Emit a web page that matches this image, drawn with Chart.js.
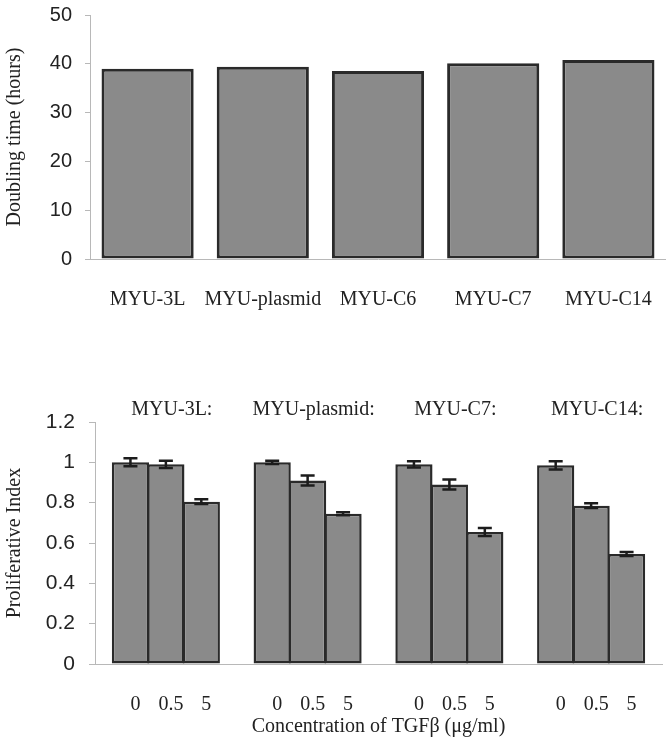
<!DOCTYPE html>
<html><head><meta charset="utf-8">
<script src="https://cdn.jsdelivr.net/npm/chart.js@4/dist/chart.umd.min.js"></script>
<style>
html,body{margin:0;padding:0;background:#fff;}
#wrap{position:relative;width:666px;height:744px;overflow:hidden;}
#c1{position:absolute;left:0;top:0;}
#c2{position:absolute;left:0;top:370px;}
</style></head><body>
<div id="wrap">
<canvas id="c1" width="666" height="330"></canvas>
<canvas id="c2" width="666" height="374"></canvas>
</div>
<script>
// ---- Top chart data ----
const cellLines = ['MYU-3L', 'MYU-plasmid', 'MYU-C6', 'MYU-C7', 'MYU-C14'];
const doublingTime = [39.0, 39.4, 38.5, 40.1, 40.8];
const doublingTicks = [0, 10, 20, 30, 40, 50];

// ---- Bottom chart data ----
const groupNames = ['MYU-3L:', 'MYU-plasmid:', 'MYU-C7:', 'MYU-C14:'];
const concentrations = ['0', '0.5', '5'];
const piMYU3L   = [1.00, 0.99, 0.805];
const piPlasmid = [1.00, 0.91, 0.745];
const piC7      = [0.99, 0.89, 0.655];
const piC14     = [0.985, 0.785, 0.545];
const errMYU3L   = [0.02, 0.018, 0.012];
const errPlasmid = [0.008, 0.025, 0.008];
const errC7      = [0.015, 0.025, 0.02];
const errC14     = [0.02, 0.012, 0.01];
const piTicks = [0, 0.2, 0.4, 0.6, 0.8, 1, 1.2];

const groupValues = [piMYU3L, piPlasmid, piC7, piC14];
const groupErrors = [errMYU3L, errPlasmid, errC7, errC14];

// slots: blank, 3 bars, blank, 3 bars, ... blank
const slotLabels = [''], slotValues = [null], slotErrors = [null], slotGroups = [''];
groupValues.forEach((vals, g) => {
  concentrations.forEach((c, j) => {
    slotLabels.push(c);
    slotValues.push(vals[j]);
    slotErrors.push(groupErrors[g][j]);
    slotGroups.push(j === 1 ? groupNames[g] : '');
  });
  slotLabels.push(''); slotValues.push(null); slotErrors.push(null); slotGroups.push('');
});

const BAR_FILL = '#8a8a8a';
const BAR_EDGE = '#2a2a2a';
const AXIS = '#b8b8b8';
const TEXT = '#222222';
const SANS = "'Liberation Sans', Arial, sans-serif";
const SERIF = "'Liberation Serif', 'Times New Roman', serif";

function noPad(s) { s.paddingTop = 0; s.paddingBottom = 0; s.paddingLeft = 0; s.paddingRight = 0; }

const errorBars = {
  id: 'errorBars',
  afterDatasetsDraw(chart, args, opts) {
    const errs = opts && opts.errors;
    if (!errs) return;
    const meta = chart.getDatasetMeta(0);
    const ys = chart.scales.y;
    const ctx = chart.ctx;
    const vals = chart.data.datasets[0].data;
    ctx.save();
    ctx.strokeStyle = '#1c1c1c';
    ctx.lineWidth = 2.5;
    meta.data.forEach((bar, i) => {
      const v = vals[i], e = errs[i];
      if (v == null || e == null) return;
      const yt = ys.getPixelForValue(v + e), yb = ys.getPixelForValue(v - e);
      const x = bar.x, hw = 7;
      ctx.beginPath();
      ctx.moveTo(x, yt); ctx.lineTo(x, yb);
      ctx.moveTo(x - hw, yt); ctx.lineTo(x + hw, yt);
      ctx.moveTo(x - hw, yb); ctx.lineTo(x + hw, yb);
      ctx.stroke();
    });
    ctx.restore();
  }
};

new Chart(document.getElementById('c1'), {
  type: 'bar',
  data: {
    labels: cellLines,
    datasets: [{
      data: doublingTime,
      backgroundColor: BAR_FILL,
      borderColor: BAR_EDGE,
      borderWidth: 3,
      borderSkipped: false,
      barPercentage: 0.8,
      categoryPercentage: 1
    }]
  },
  options: {
    responsive: false,
    animation: false,
    layout: { padding: { top: 15, right: 0, left: 0, bottom: 0 } },
    plugins: { legend: { display: false }, tooltip: { enabled: false } },
    scales: {
      x: {
        grid: { display: true, drawOnChartArea: false, drawTicks: false },
        border: { color: AXIS },
        ticks: { padding: 29, color: TEXT, font: { family: SERIF, size: 20 }, maxRotation: 0, autoSkip: false },
        afterFit(s) { s.height = 71; noPad(s); }
      },
      y: {
        min: 0, max: 50,
        afterBuildTicks(s) { s.ticks = doublingTicks.map(v => ({ value: v })); },
        grid: { drawOnChartArea: false, drawTicks: true, tickLength: 5, color: AXIS },
        border: { color: AXIS },
        ticks: { padding: 13, color: TEXT, font: { family: SANS, size: 20 }, callback: v => String(v) },
        title: { display: true, text: 'Doubling time (hours)', color: TEXT, font: { family: SERIF, size: 20 }, padding: { top: 3, bottom: 0 } },
        afterFit(s) { s.width = 90; noPad(s); }
      }
    }
  }
});

new Chart(document.getElementById('c2'), {
  type: 'bar',
  data: {
    labels: slotLabels,
    datasets: [{
      data: slotValues,
      backgroundColor: BAR_FILL,
      borderColor: BAR_EDGE,
      borderWidth: 2.5,
      borderSkipped: false,
      barPercentage: 1.05,
      categoryPercentage: 1
    }]
  },
  plugins: [errorBars],
  options: {
    responsive: false,
    animation: false,
    layout: { padding: { top: 0, right: 4, left: 0, bottom: 0 } },
    plugins: { legend: { display: false }, tooltip: { enabled: false }, errorBars: { errors: slotErrors } },
    scales: {
      x: {
        offset: false,
        min: 0, max: slotLabels.length - 1,
        grid: { display: true, drawOnChartArea: false, drawTicks: false },
        border: { color: AXIS },
        ticks: { padding: 29, labelOffset: 5, color: TEXT, font: { family: SERIF, size: 20 }, maxRotation: 0, autoSkip: false },
        title: { display: true, text: 'Concentration of TGFβ (μg/ml)', color: TEXT, font: { family: SERIF, size: 20 }, padding: { top: 0, bottom: 5 } },
        afterFit(s) { s.height = 80; noPad(s); }
      },
      x2: {
        type: 'category',
        position: 'top',
        labels: slotGroups,
        offset: false,
        min: 0, max: slotGroups.length - 1,
        grid: { display: false, drawTicks: false },
        border: { display: false },
        ticks: { padding: 0, labelOffset: 6, color: TEXT, font: { family: SERIF, size: 20 }, maxRotation: 0, autoSkip: false },
        afterFit(s) { s.height = 52; noPad(s); }
      },
      y: {
        min: 0, max: 1.2,
        afterBuildTicks(s) { s.ticks = piTicks.map(v => ({ value: v })); },
        grid: { drawOnChartArea: false, drawTicks: true, tickLength: 6, color: AXIS },
        border: { color: AXIS },
        ticks: { padding: 14, color: TEXT, font: { family: SANS, size: 21 }, callback: v => String(v) },
        title: { display: true, text: 'Proliferative Index', color: TEXT, font: { family: SERIF, size: 20 }, padding: { top: 3, bottom: 0 } },
        afterFit(s) { s.width = 95; noPad(s); }
      }
    }
  }
});
</script>
</body></html>
